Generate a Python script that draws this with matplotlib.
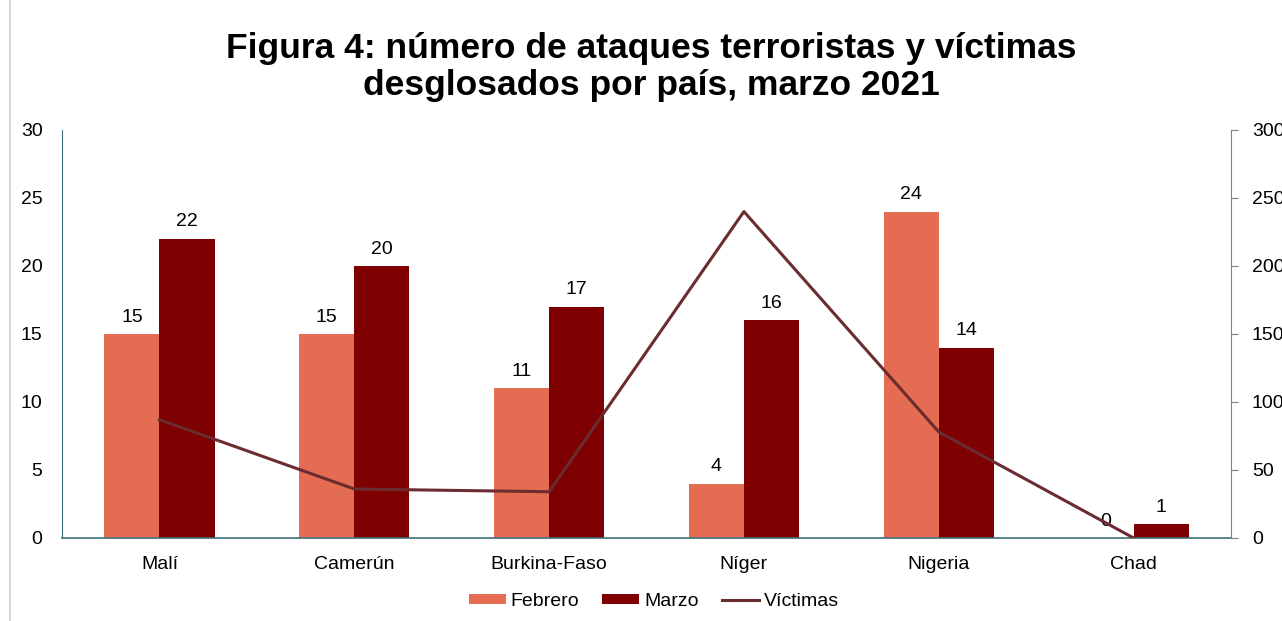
import matplotlib.pyplot as plt
import numpy as np
from matplotlib.lines import Line2D

plt.rcParams['font.family'] = ['Liberation Sans', 'DejaVu Sans']

# data
paises = ['Malí', 'Camerún', 'Burkina-Faso', 'Níger', 'Nigeria', 'Chad']
febrero = [15, 15, 11, 4, 24, 0]
marzo = [22, 20, 17, 16, 14, 1]
victimas = [87, 36, 34, 240, 78, 0]

c_feb = '#E46C52'
c_mar = '#7F0000'
c_vic = '#6B2C30'
fs = 14

fig = plt.figure(figsize=(12.82, 6.21), dpi=100)
ax = fig.add_axes([0.0484, 0.1337, 0.9118, 0.657])
x = np.arange(len(paises))
w = 0.283

b1 = ax.bar(x - w / 2, febrero, w, color=c_feb, label='Febrero', zorder=2)
b2 = ax.bar(x + w / 2, marzo, w, color=c_mar, label='Marzo', zorder=2)
for bars in (b1, b2):
    ax.bar_label(bars, padding=6, fontsize=fs)

ax.set_xlim(-0.5, len(paises) - 0.5)
ax.set_ylim(0, 30)
ax.set_yticks(range(0, 31, 5))
ax.set_xticks(x)
ax.set_xticklabels(paises)
ax.tick_params(axis='both', labelsize=fs, length=0)
ax.tick_params(axis='x', pad=13)
ax.tick_params(axis='y', pad=14)
for s in ('top', 'right'):
    ax.spines[s].set_visible(False)
ax.spines['left'].set_color('#3F6F7A')
ax.spines['bottom'].set_color('#3F6F7A')
ax.spines['bottom'].set_linewidth(1.2)

ax2 = ax.twinx()
ax2.plot(x, victimas, color=c_vic, lw=2.2, label='Víctimas', zorder=3)
ax2.set_ylim(0, 300)
ax2.set_yticks(range(0, 301, 50))
ax2.tick_params(axis='y', labelsize=fs, length=5, color='#808080', pad=10)
for s in ('top', 'left', 'bottom'):
    ax2.spines[s].set_visible(False)
ax2.spines['right'].set_color('#808080')

h1, l1 = ax.get_legend_handles_labels()
h2, l2 = ax2.get_legend_handles_labels()
fig.legend(h1 + h2, l1 + l2, loc='center', bbox_to_anchor=(0.51, 0.032),
           ncol=3, frameon=False, fontsize=fs, handlelength=1.9,
           handleheight=0.4, columnspacing=1.2, handletextpad=0.25)

fig.text(0.508, 0.892, 'Figura 4: número de ataques terroristas y víctimas\n'
         'desglosados por país, marzo 2021', ha='center', va='center',
         fontsize=25.5, fontweight='bold', linespacing=1.15)

# light frame line on the left edge like the source image
fig.add_artist(Line2D([0.008, 0.008], [0, 1], transform=fig.transFigure,
                      color='#D9D9D9', lw=1.5))

fig.savefig('out.png', dpi=100)
